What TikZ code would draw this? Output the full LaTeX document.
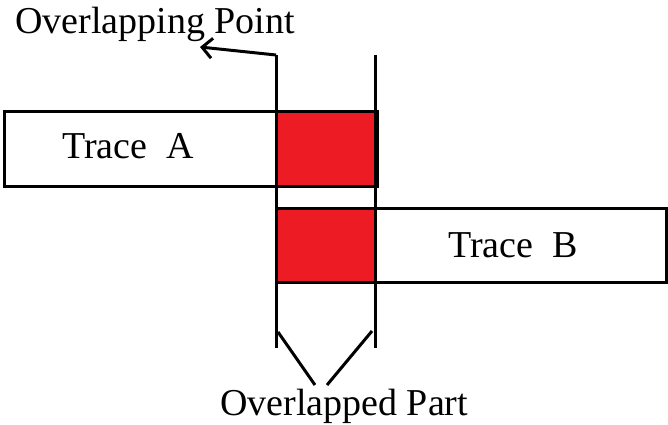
\documentclass[tikz,border=0pt]{standalone}
\usepackage{fontspec}
\setmainfont{Liberation Serif}
\usetikzlibrary{arrows.meta}
\definecolor{ovred}{HTML}{ED1C24}
\begin{document}
\begin{tikzpicture}[x=1pt,y=-1pt,
  line/.style={line width=3pt},
  lbl/.style={font=\fontsize{38}{40}\selectfont, anchor=base west, inner sep=0pt},
  redbox/.style={fill=ovred, draw=black, line width=3pt}]
\useasboundingbox (0,0) rectangle (668,424);
% trace boxes
\draw[line] (4,111) rectangle (377,186);
\draw[line] (276,208) rectangle (666,282);
\draw[redbox] (276,111) rectangle (377,186);
\draw[redbox] (276,208) rectangle (375,282);
% vertical markers
\coordinate (lt) at (276,55);
\coordinate (lb) at (276,348);
\coordinate (rt) at (375,55);
\coordinate (rb) at (375,348);
\draw[line] (lt) -- (lb);
\draw[line] (rt) -- (rb);
% arrow to overlapping point
\coordinate (ah) at (200,47);
\draw[line, -{Straight Barb[length=10pt,width=20pt]}] (lt) -- (ah);
% texts
\node[lbl] (op) at (15,33) {Overlapping Point};
\node[lbl] (ta) at (62,158) {Trace\ \ A};
\node[lbl] (tb) at (448,257) {Trace\ \ B};
\node[lbl] (opart) at (220,415) {Overlapped Part};
% brace lines
\coordinate (d1a) at (278,332);
\coordinate (d1b) at (315,385);
\coordinate (d2a) at (372,331);
\coordinate (d2b) at (327,385);
\draw[line] (d1a) -- (d1b);
\draw[line] (d2a) -- (d2b);
\end{tikzpicture}
\end{document}
